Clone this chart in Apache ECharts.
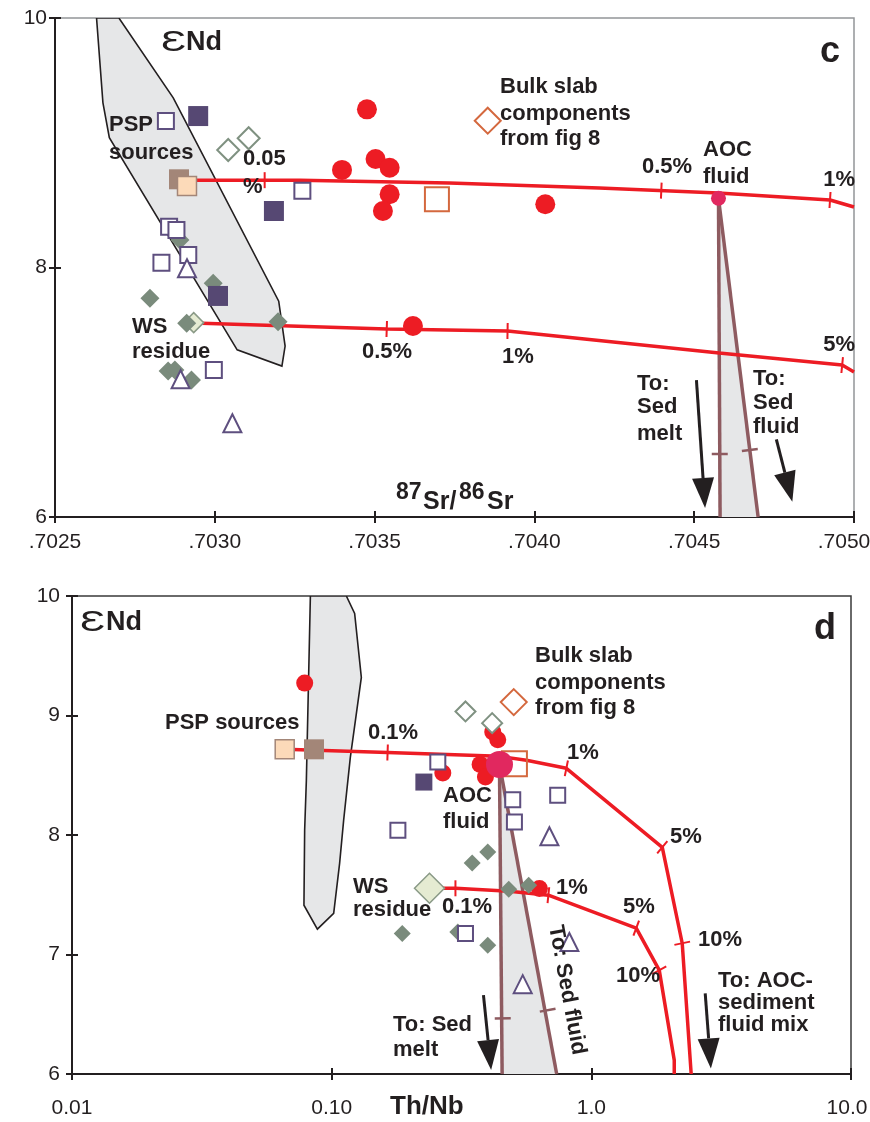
<!DOCTYPE html>
<html lang="en">
<head>
<meta charset="UTF-8">
<title>eNd vs Sr and Th/Nb</title>
<script src="https://cdn.jsdelivr.net/npm/echarts@6/dist/echarts.min.js"></script>
<style>body{margin:0;background:#fff}</style>
</head>
<body>
<div id="main" style="width:870px;height:1122px"></div>
<script type="text/javascript">
// ---------- panel c : 87Sr/86Sr vs eNd ----------
var cFieldX = [0.70263, 0.70270, 0.70287, 0.70320, 0.70322, 0.70321, 0.70307, 0.70267, 0.70265];
var cFieldY = [10.0, 10.0, 9.36, 7.73, 7.37, 7.21, 7.34, 9.04, 9.32];

var cUpperX = [0.702916, 0.703266, 0.703734, 0.704203, 0.704575, 0.704925, 0.7050];
var cUpperY = [8.70, 8.70, 8.677, 8.637, 8.597, 8.541, 8.485];
var cUpperTickX = [0.703156, 0.704397, 0.704925];
var cUpperTickY = [8.70, 8.616, 8.541];

var cLowerX = [0.702934, 0.703538, 0.703916, 0.704578, 0.704963, 0.7050];
var cLowerY = [7.555, 7.507, 7.491, 7.315, 7.218, 7.162];
var cLowerTickX = [0.703538, 0.703916, 0.704963];
var cLowerTickY = [7.507, 7.491, 7.218];

var cMeltX = [0.704576, 0.704581];
var cMeltY = [8.555, 6.0];
var cFluidX = [0.704576, 0.7047];
var cFluidY = [8.555, 6.0];
var cBrownTickX = [0.70458, 0.704674];
var cBrownTickY = [6.505, 6.537];
var cArrows = [[0.704507, 7.098, 0.704534, 6.072], [0.704757, 6.623, 0.704807, 6.123]];

var cRedX = [0.703476, 0.703503, 0.703547, 0.703398, 0.703547, 0.703526, 0.704034, 0.70362];
var cRedY = [9.268, 8.870, 8.800, 8.782, 8.587, 8.453, 8.507, 7.531];
var cOpenSqX = [0.702847, 0.703274, 0.702857, 0.70288, 0.702917, 0.702833, 0.702997];
var cOpenSqY = [9.174, 8.616, 8.327, 8.301, 8.100, 8.038, 7.178];
var cFilledSqX = [0.702948, 0.703185, 0.70301];
var cFilledSqY = [9.214, 8.453, 7.772];
var cTriX = [0.702913, 0.702893, 0.703055];
var cTriY = [7.994, 7.104, 6.751];
var cDiaX = [0.702891, 0.702797, 0.702995, 0.702912, 0.703198, 0.702854, 0.702875, 0.702927];
var cDiaY = [8.220, 7.753, 7.873, 7.553, 7.566, 7.170, 7.178, 7.098];
var cOpenDiaX = [0.703042, 0.703106];
var cOpenDiaY = [8.942, 9.036];
var cWsX = [0.702934], cWsY = [7.558];
var cPspBrownX = [0.702888], cPspBrownY = [8.707];
var cPspPeachX = [0.702913], cPspPeachY = [8.653];
var cBulkSqX = [0.703695], cBulkSqY = [8.547];
var cBulkDiaX = [0.703854], cBulkDiaY = [9.177];
var cAocX = [0.704576], cAocY = [8.555];

// ---------- panel d : Th/Nb vs eNd ----------
var dFieldX = [0.0828, 0.1139, 0.1226, 0.1301, 0.1180, 0.1112, 0.1073, 0.1018, 0.0881, 0.0782, 0.0787, 0.0799];
var dFieldY = [10.0, 10.0, 9.854, 9.319, 8.650, 8.123, 7.763, 7.345, 7.212, 7.412, 8.039, 8.457];

var dUpperX = [0.06594, 0.1642, 0.4428, 0.5623, 0.8014, 1.876, 2.239, 2.424];
var dUpperY = [8.717, 8.691, 8.658, 8.625, 8.558, 7.897, 7.094, 6.0];
var dUpperTickX = [0.1642, 0.8014, 1.876, 2.239];
var dUpperTickY = [8.691, 8.558, 7.897, 7.094];

var dLowerX = [0.2381, 0.2997, 0.4837, 0.6832, 1.489, 1.826, 2.086, 2.086];
var dLowerY = [7.554, 7.554, 7.529, 7.496, 7.220, 6.869, 6.116, 6.0];
var dLowerTickX = [0.2997, 0.6832, 1.489, 1.826];
var dLowerTickY = [7.554, 7.496, 7.220, 6.869];

var dMeltX = [0.4428, 0.4534];
var dMeltY = [8.591, 6.0];
var dFluidX = [0.4428, 0.7355];
var dFluidY = [8.591, 6.0];
var dBrownTickX = [0.4558, 0.679];
var dBrownTickY = [6.465, 6.534];
var dArrows = [[0.3842, 6.660, 0.4113, 6.033], [2.745, 6.674, 2.887, 6.047]];

var dRedX = [0.07873, 0.4172, 0.4361, 0.2679, 0.3730, 0.3910, 0.6310];
var dRedY = [9.271, 8.861, 8.798, 8.518, 8.591, 8.485, 7.552];
var dOpenSqX = [0.2563, 0.4981, 0.5056, 0.7421, 0.1799, 0.3276];
var dOpenSqY = [8.610, 8.296, 8.109, 8.332, 8.039, 7.176];
var dFilledSqX = [0.2265], dFilledSqY = [8.443];
var dTriX = [0.6894, 0.8229, 0.5442];
var dTriY = [7.989, 7.105, 6.752];
var dDiaX = [0.3991, 0.3477, 0.4807, 0.5738, 0.1870, 0.3991, 0.3060];
var dDiaY = [7.858, 7.766, 7.546, 7.579, 7.176, 7.078, 7.189];
var dOpenDiaX = [0.3276, 0.4150];
var dOpenDiaY = [9.034, 8.936];
var dWsX = [0.2381], dWsY = [7.554];
var dPspPeachX = [0.06594], dPspPeachY = [8.717];
var dPspBrownX = [0.08549], dPspBrownY = [8.717];
var dBulkSqX = [0.5056], dBulkSqY = [8.597];
var dBulkDiaX = [0.5026], dBulkDiaY = [9.112];
var dAocX = [0.4428], dAocY = [8.591];

var FONT = '"Liberation Sans", Arial, sans-serif';
var INK = '#231F20';
var RED = '#ED1C24';
var BROWN = '#8E5B60';
var PURPLE = '#5E4F7F';

function pairs(xs, ys) { return xs.map(function (x, i) { return [x, ys[i]]; }); }

function scatter(idx, xs, ys, symbol, size, style, z) {
    style.opacity = 1;
    return { type: 'scatter', xAxisIndex: idx, yAxisIndex: idx, symbol: symbol, symbolSize: size,
        itemStyle: style, z: z, silent: true, data: pairs(xs, ys) };
}
function line(idx, xs, ys, color, width, z) {
    return { type: 'line', xAxisIndex: idx, yAxisIndex: idx, data: pairs(xs, ys), symbol: 'none',
        lineStyle: { color: color, width: width }, z: z, silent: true };
}
function poly(idx, xs, ys, fill, stroke, lw, z) {
    return { type: 'custom', xAxisIndex: idx, yAxisIndex: idx, z: z, silent: true, clip: true,
        data: pairs(xs, ys),
        renderItem: function (params, api) {
            if (params.dataIndex !== 0) return null;
            var pts = xs.map(function (x, i) { return api.coord([x, ys[i]]); });
            return { type: 'polygon', shape: { points: pts },
                style: { fill: fill, stroke: stroke, lineWidth: lw } };
        } };
}
// small ticks across a path, perpendicular to the nearest segment
function ticks(idx, tx, ty, px, py, color, half, lw, z) {
    return { type: 'custom', xAxisIndex: idx, yAxisIndex: idx, z: z, silent: true,
        data: pairs(tx, ty),
        renderItem: function (params, api) {
            var p = api.coord([api.value(0), api.value(1)]);
            var pts = px.map(function (x, i) { return api.coord([x, py[i]]); });
            var best = [1, 0], bd = Infinity;
            for (var i = 0; i < pts.length - 1; i++) {
                var a = pts[i], b = pts[i + 1];
                var dx = b[0] - a[0], dy = b[1] - a[1], L2 = dx * dx + dy * dy;
                var t = Math.max(0, Math.min(1, ((p[0] - a[0]) * dx + (p[1] - a[1]) * dy) / L2));
                var qx = a[0] + t * dx - p[0], qy = a[1] + t * dy - p[1];
                var d = qx * qx + qy * qy;
                if (d < bd - 0.01) { bd = d; best = [dx, dy]; }
            }
            var len = Math.sqrt(best[0] * best[0] + best[1] * best[1]);
            var nx = -best[1] / len, ny = best[0] / len;
            return { type: 'line', shape: { x1: p[0] - nx * half, y1: p[1] - ny * half,
                x2: p[0] + nx * half, y2: p[1] + ny * half }, style: { stroke: color, lineWidth: lw } };
        } };
}
function arrows(idx, list, z) {
    return { type: 'custom', xAxisIndex: idx, yAxisIndex: idx, z: z, silent: true,
        data: list,
        renderItem: function (params, api) {
            var p1 = api.coord([api.value(0), api.value(1)]);
            var p2 = api.coord([api.value(2), api.value(3)]);
            var dx = p2[0] - p1[0], dy = p2[1] - p1[1], L = Math.sqrt(dx * dx + dy * dy);
            var ux = dx / L, uy = dy / L;
            var bx = p2[0] - ux * 30, by = p2[1] - uy * 30;
            return { type: 'group', children: [
                { type: 'line', shape: { x1: p1[0], y1: p1[1], x2: bx, y2: by },
                    style: { stroke: INK, lineWidth: 3 } },
                { type: 'polygon', shape: { points: [[p2[0], p2[1]], [bx - uy * 11, by + ux * 11], [bx + uy * 11, by - ux * 11]] },
                    style: { fill: INK } }
            ] };
        } };
}

function panelSeries(idx, P, s) {
    return [
        poly(idx, P.fieldX, P.fieldY, '#E6E7E8', INK, 1.6, 1),
        poly(idx, [P.meltX[0], P.meltX[1], P.fluidX[1]], [P.meltY[0], P.meltY[1], P.fluidY[1]], '#E6E7E8', null, 0, 1),
        line(idx, P.meltX, P.meltY, BROWN, 3.5, 2),
        line(idx, P.fluidX, P.fluidY, BROWN, 3.5, 2),
        ticks(idx, [P.brownTickX[0]], [P.brownTickY[0]], P.meltX, P.meltY, BROWN, 8, 2.5, 2),
        ticks(idx, [P.brownTickX[1]], [P.brownTickY[1]], P.fluidX, P.fluidY, BROWN, 8, 2.5, 2),
        line(idx, P.upperX, P.upperY, RED, 3.5, 3),
        line(idx, P.lowerX, P.lowerY, RED, 3.5, 3),
        ticks(idx, P.upperTickX, P.upperTickY, P.upperX, P.upperY, RED, 8, 2, 3),
        ticks(idx, P.lowerTickX, P.lowerTickY, P.lowerX, P.lowerY, RED, 8, 2, 3),
        arrows(idx, P.arrows, 4),
        scatter(idx, P.redX, P.redY, 'circle', s.red, { color: RED }, 5),
        scatter(idx, P.wsX, P.wsY, 'diamond', s.ws, { color: '#E5EBD2', borderColor: '#8A9A87', borderWidth: 1.5 }, 5),
        scatter(idx, P.diaX, P.diaY, 'diamond', s.dia, { color: '#7A8B7C' }, 6),
        scatter(idx, P.filledSqX, P.filledSqY, 'rect', s.fsq, { color: '#564873' }, 6),
        scatter(idx, P.openSqX, P.openSqY, 'rect', s.osq, { color: '#fff', borderColor: PURPLE, borderWidth: 2 }, 7),
        scatter(idx, P.triX, P.triY, 'triangle', 18, { color: '#fff', borderColor: PURPLE, borderWidth: 2 }, 7),
        scatter(idx, P.openDiaX, P.openDiaY, 'diamond', s.odia, { color: '#fff', borderColor: '#7F9181', borderWidth: 2 }, 7),
        scatter(idx, P.pspBrownX, P.pspBrownY, 'rect', 20, { color: '#A38678' }, 7),
        scatter(idx, P.pspPeachX, P.pspPeachY, 'rect', 19, { color: '#FCDAB9', borderColor: '#A38678', borderWidth: 1.5 }, 8),
        scatter(idx, P.bulkSqX, P.bulkSqY, 'rect', s.bsq, { color: 'rgba(255,255,255,0)', borderColor: '#D4683E', borderWidth: 2 }, 8),
        scatter(idx, P.bulkDiaX, P.bulkDiaY, 'diamond', 26, { color: '#fff', borderColor: '#D4683E', borderWidth: 2 }, 8),
        scatter(idx, P.aocX, P.aocY, 'circle', s.aoc, { color: '#E1285F' }, 9)
    ];
}

var panelC = { fieldX: cFieldX, fieldY: cFieldY, upperX: cUpperX, upperY: cUpperY, upperTickX: cUpperTickX, upperTickY: cUpperTickY,
    lowerX: cLowerX, lowerY: cLowerY, lowerTickX: cLowerTickX, lowerTickY: cLowerTickY,
    meltX: cMeltX, meltY: cMeltY, fluidX: cFluidX, fluidY: cFluidY, brownTickX: cBrownTickX, brownTickY: cBrownTickY, arrows: cArrows,
    redX: cRedX, redY: cRedY, openSqX: cOpenSqX, openSqY: cOpenSqY, filledSqX: cFilledSqX, filledSqY: cFilledSqY,
    triX: cTriX, triY: cTriY, diaX: cDiaX, diaY: cDiaY, openDiaX: cOpenDiaX, openDiaY: cOpenDiaY, wsX: cWsX, wsY: cWsY,
    pspBrownX: cPspBrownX, pspBrownY: cPspBrownY, pspPeachX: cPspPeachX, pspPeachY: cPspPeachY,
    bulkSqX: cBulkSqX, bulkSqY: cBulkSqY, bulkDiaX: cBulkDiaX, bulkDiaY: cBulkDiaY, aocX: cAocX, aocY: cAocY };
var panelD = { fieldX: dFieldX, fieldY: dFieldY, upperX: dUpperX, upperY: dUpperY, upperTickX: dUpperTickX, upperTickY: dUpperTickY,
    lowerX: dLowerX, lowerY: dLowerY, lowerTickX: dLowerTickX, lowerTickY: dLowerTickY,
    meltX: dMeltX, meltY: dMeltY, fluidX: dFluidX, fluidY: dFluidY, brownTickX: dBrownTickX, brownTickY: dBrownTickY, arrows: dArrows,
    redX: dRedX, redY: dRedY, openSqX: dOpenSqX, openSqY: dOpenSqY, filledSqX: dFilledSqX, filledSqY: dFilledSqY,
    triX: dTriX, triY: dTriY, diaX: dDiaX, diaY: dDiaY, openDiaX: dOpenDiaX, openDiaY: dOpenDiaY, wsX: dWsX, wsY: dWsY,
    pspBrownX: dPspBrownX, pspBrownY: dPspBrownY, pspPeachX: dPspPeachX, pspPeachY: dPspPeachY,
    bulkSqX: dBulkSqX, bulkSqY: dBulkSqY, bulkDiaX: dBulkDiaX, bulkDiaY: dBulkDiaY, aocX: dAocX, aocY: dAocY };

// text annotations: [text, x, y, align]
var notes = [
    ['PSP', 109, 125, 'left'], ['sources', 109, 153, 'left'],
    ['WS', 132, 327, 'left'], ['residue', 132, 352, 'left'],
    ['Bulk slab', 500, 87, 'left'], ['components', 500, 114, 'left'], ['from fig 8', 500, 139, 'left'],
    ['0.05', 243, 159, 'left'], ['%', 243, 187, 'left'],
    ['0.5%', 667, 167, 'center'], ['1%', 855, 180, 'right'],
    ['AOC', 703, 150, 'left'], ['fluid', 703, 177, 'left'],
    ['0.5%', 387, 352, 'center'], ['1%', 518, 357, 'center'], ['5%', 855, 345, 'right'],
    ['To:', 637, 384, 'left'], ['Sed', 637, 407, 'left'], ['melt', 637, 434, 'left'],
    ['To:', 753, 379, 'left'], ['Sed', 753, 403, 'left'], ['fluid', 753, 427, 'left'],
    ['PSP sources', 165, 723, 'left'],
    ['0.1%', 393, 733, 'center'],
    ['Bulk slab', 535, 656, 'left'], ['components', 535, 683, 'left'], ['from fig 8', 535, 708, 'left'],
    ['1%', 583, 753, 'center'],
    ['AOC', 443, 796, 'left'], ['fluid', 443, 822, 'left'],
    ['WS', 353, 887, 'left'], ['residue', 353, 910, 'left'],
    ['0.1%', 467, 907, 'center'], ['1%', 572, 888, 'center'],
    ['5%', 686, 837, 'center'], ['5%', 639, 907, 'center'],
    ['10%', 720, 940, 'center'], ['10%', 638, 976, 'center'],
    ['To: AOC-', 718, 981, 'left'], ['sediment', 718, 1003, 'left'], ['fluid mix', 718, 1025, 'left'],
    ['To: Sed', 393, 1025, 'left'], ['melt', 393, 1050, 'left']
];

function txt(text, x, y, align, font, extra) {
    var el = { type: 'text', x: x, y: y, z: 100, silent: true,
        style: { text: text, font: font, fill: INK, align: align, textAlign: align,
            verticalAlign: 'middle', textVerticalAlign: 'middle' } };
    if (extra) for (var k in extra) el[k] = extra[k];
    return el;
}
var graphics = notes.map(function (n) { return txt(n[0], n[1], n[2], n[3], 'bold 22px ' + FONT); });
graphics.push(
    txt('\u0190', 161, 43, 'left', '30px ' + FONT, { scaleX: 1.4 }),
    txt('Nd', 186, 43, 'left', 'bold 27px ' + FONT),
    txt('c', 830, 52, 'center', 'bold 36px ' + FONT),
    txt('\u0190', 80, 623, 'left', '30px ' + FONT, { scaleX: 1.4 }),
    txt('Nd', 106, 623, 'left', 'bold 27px ' + FONT),
    txt('d', 825, 629, 'center', 'bold 36px ' + FONT),
    txt('87', 396, 493, 'left', 'bold 23px ' + FONT),
    txt('Sr/', 423, 502, 'left', 'bold 25px ' + FONT),
    txt('86', 459, 493, 'left', 'bold 23px ' + FONT),
    txt('Sr', 487, 502, 'left', 'bold 25px ' + FONT),
    txt('Th/Nb', 390, 1107, 'left', 'bold 26px ' + FONT),
    txt('To: Sed fluid', 567, 990, 'center', 'bold 22px ' + FONT, { rotation: -79.5 * Math.PI / 180 })
);

var axLine = { lineStyle: { color: INK, width: 2 } };
var tickOut = { show: true, inside: false, length: 6, lineStyle: { color: INK, width: 2 } };
var tickIn = { show: true, inside: true, length: 6, lineStyle: { color: INK, width: 2 } };
var lab = { color: INK, fontSize: 21, fontFamily: FONT };
// the last label of each x axis sits a little left of its tick in the figure
var lastLab = { m: { color: INK, fontSize: 21, fontFamily: FONT, padding: [0, 20, 0, 0] } };

function fmtSr(v) {
    var s = v.toFixed(4).replace(/^0/, '');
    return v > 0.70499 ? '{m|' + s + '}' : s;
}
function fmtLog(v) {
    var s = v >= 1 ? v.toFixed(1) : v.toFixed(2);
    return v > 9 ? '{m|' + s + '}' : s;
}

var myChart = echarts.init(document.getElementById('main'));
var option = {
    animation: false,
    backgroundColor: '#fff',
    grid: [
        { left: 55, top: 18, width: 799, height: 499, show: true, borderColor: '#939598', borderWidth: 1.5,
            containLabel: false, outerBoundsMode: 'none' },
        { left: 72, top: 596, width: 779, height: 478, show: true, borderColor: '#3a3a3a', borderWidth: 1.5,
            containLabel: false, outerBoundsMode: 'none' }
    ],
    xAxis: [
        { gridIndex: 0, type: 'value', position: 'bottom', min: 0.7025, max: 0.7050, interval: 0.0005,
            axisLine: axLine, axisTick: tickOut, splitLine: { show: false },
            axisLabel: Object.assign({ margin: 15, formatter: fmtSr, rich: lastLab }, lab) },
        { gridIndex: 1, type: 'log', logBase: 10, position: 'bottom', min: 0.01, max: 10,
            axisLine: axLine, axisTick: tickOut, splitLine: { show: false }, minorTick: { show: false },
            axisLabel: Object.assign({ margin: 24, formatter: fmtLog, rich: { m: { color: INK, fontSize: 21, fontFamily: FONT, padding: [0, 8, 0, 0] } } }, lab) },
        { gridIndex: 0, type: 'value', position: 'bottom', offset: 0, min: 0.7025, max: 0.7050, interval: 0.0005,
            axisLine: { show: false }, axisTick: tickIn, axisLabel: { show: false }, splitLine: { show: false } },
        { gridIndex: 1, type: 'log', logBase: 10, position: 'bottom', offset: 0, min: 0.01, max: 10,
            axisLine: { show: false }, axisTick: tickIn, axisLabel: { show: false }, splitLine: { show: false } }
    ],
    yAxis: [
        { gridIndex: 0, type: 'value', position: 'left', min: 6, max: 10, interval: 2,
            axisLine: axLine, axisTick: tickOut, splitLine: { show: false },
            axisLabel: Object.assign({ margin: 8 }, lab) },
        { gridIndex: 1, type: 'value', position: 'left', min: 6, max: 10, interval: 1,
            axisLine: axLine, axisTick: tickOut, splitLine: { show: false },
            axisLabel: Object.assign({ margin: 12 }, lab) },
        { gridIndex: 0, type: 'value', position: 'left', offset: 0, min: 6, max: 10, interval: 2,
            axisLine: { show: false }, axisTick: tickIn, axisLabel: { show: false }, splitLine: { show: false } },
        { gridIndex: 1, type: 'value', position: 'left', offset: 0, min: 6, max: 10, interval: 1,
            axisLine: { show: false }, axisTick: tickIn, axisLabel: { show: false }, splitLine: { show: false } }
    ],
    series: panelSeries(0, panelC, { red: 20, ws: 20, dia: 19, fsq: 20, osq: 16, odia: 22, bsq: 24, aoc: 15 })
        .concat(panelSeries(1, panelD, { red: 17, ws: 30, dia: 17, fsq: 17, osq: 15, odia: 20, bsq: 25, aoc: 27 })),
    graphic: graphics
};
myChart.setOption(option);
</script>
</body>
</html>
